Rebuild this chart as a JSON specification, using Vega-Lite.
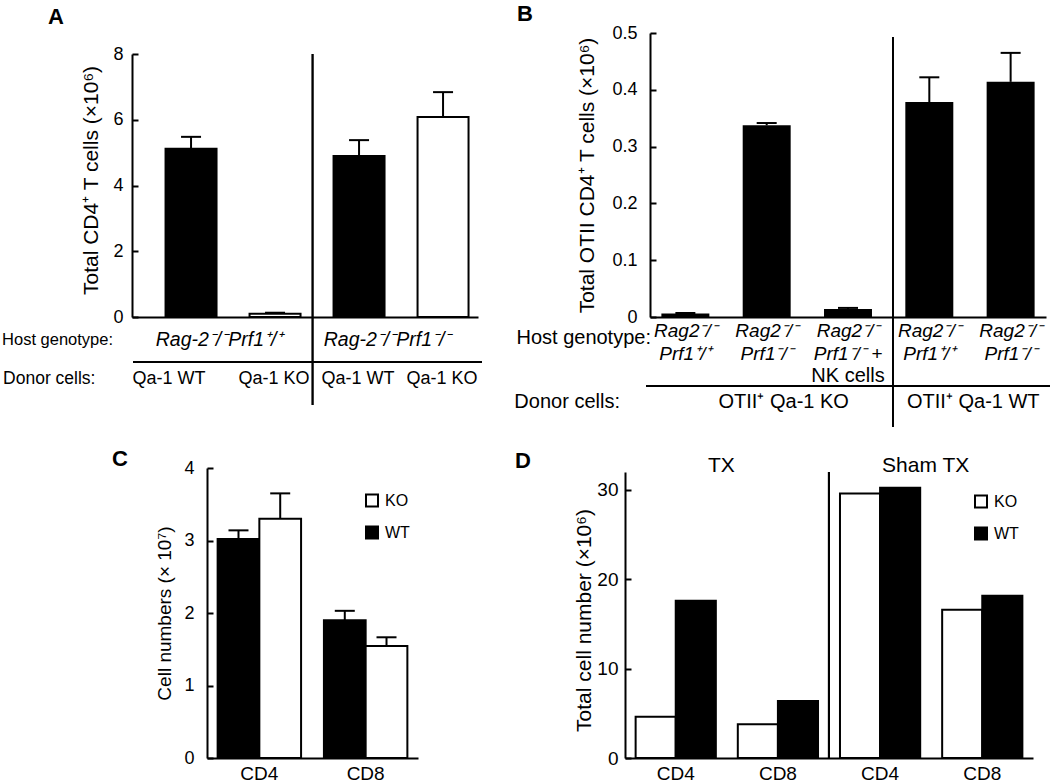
{
  "$schema": "https://vega.github.io/schema/vega-lite/v6.json",
  "width": 1050,
  "height": 783,
  "autosize": {"type": "none"},
  "padding": 0,
  "background": "white",
  "config": {
    "font": "Liberation Sans",
    "view": {"stroke": null},
    "axis": {"grid": false, "domainColor": "black", "domainWidth": 2, "tickColor": "black", "tickWidth": 2, "labelColor": "black", "titleColor": "black", "labelFont": "Liberation Sans", "titleFont": "Liberation Sans", "titleFontWeight": "normal", "labelFontSize": 18, "titleFontSize": 21},
    "legend": {"labelFont": "Liberation Sans", "labelColor": "black"},
    "text": {"font": "Liberation Sans", "color": "black"}
  },
  "resolve": {"scale": {"x": "independent", "y": "independent", "fill": "independent", "xOffset": "independent"}, "axis": {"x": "independent", "y": "independent"}, "legend": {"fill": "independent"}},
  "layer": [
    {
      "data": {"values": [
        {"bar": "A1", "donor": "Qa-1 WT", "geno": "WT", "value": 5.12, "upper": 5.48},
        {"bar": "A2", "donor": "Qa-1 KO", "geno": "KO", "value": 0.1, "upper": 0.13},
        {"bar": "A3", "donor": "Qa-1 WT", "geno": "WT", "value": 4.9, "upper": 5.38},
        {"bar": "A4", "donor": "Qa-1 KO", "geno": "KO", "value": 6.08, "upper": 6.84}
      ]},
      "layer": [
        {
          "mark": {"type": "bar", "stroke": "black", "strokeWidth": 2},
          "encoding": {
            "x": {"field": "bar", "type": "nominal", "scale": {"domain": ["A1", "A2", "A3", "A4"], "range": [132, 478], "paddingInner": 0.393, "paddingOuter": 0.256, "align": 0.78}, "axis": {"orient": "bottom", "offset": -466, "labels": false, "ticks": false, "title": null}},
            "y": {"field": "value", "type": "quantitative", "scale": {"domain": [0, 8], "nice": false, "range": [317, 54]}, "axis": {"orient": "left", "offset": -132, "values": [0, 2, 4, 6, 8], "format": "~g", "tickSize": -6, "labelPadding": 15, "title": "Total CD4⁺ T cells (×10⁶)", "titleX": -35, "titleY": 180, "titleBaseline": "alphabetic", "titleAngle": 270}},
            "fill": {"field": "geno", "type": "nominal", "scale": {"domain": ["WT", "KO"], "range": ["black", "white"]}, "legend": null}
          }
        },
        {
          "mark": {"type": "rule", "color": "black", "strokeWidth": 2},
          "encoding": {"x": {"field": "bar", "type": "nominal"}, "y": {"field": "value", "type": "quantitative"}, "y2": {"field": "upper"}}
        },
        {
          "mark": {"type": "tick", "color": "black", "thickness": 2, "size": 20, "opacity": 1},
          "encoding": {"x": {"field": "bar", "type": "nominal"}, "y": {"field": "upper", "type": "quantitative"}}
        },
        {
          "mark": {"type": "rule", "color": "black", "strokeWidth": 1.5, "xOffset": -21, "y2Offset": 88},
          "encoding": {"x": {"datum": "A3", "bandPosition": 0}, "y": {"datum": 8}, "y2": {"datum": 0}}
        },
        {
          "mark": {"type": "rule", "color": "black", "strokeWidth": 1.5, "xOffset": -32.5, "x2Offset": 13.5, "yOffset": 45},
          "encoding": {"x": {"datum": "A1", "bandPosition": 0}, "x2": {"datum": "A4", "bandPosition": 1}, "y": {"datum": 0}}
        },
        {
          "data": {"values": [{"bar": "A1", "label": "Rag-2⁻/⁻Prf1⁺/⁺"}, {"bar": "A3", "label": "Rag-2⁻/⁻Prf1⁻/⁻"}]},
          "mark": {"type": "text", "fontStyle": "italic", "fontSize": 19.5, "baseline": "middle", "dy": 23},
          "encoding": {"x": {"field": "bar", "type": "nominal", "bandPosition": 1.06}, "y": {"datum": 0}, "text": {"field": "label"}}
        },
        {
          "transform": [{"filter": "datum.bar === 'A1'"}],
          "mark": {"type": "text", "fontSize": 18, "baseline": "middle", "dy": 62, "dx": -22},
          "encoding": {"x": {"field": "bar", "type": "nominal"}, "y": {"datum": 0}, "text": {"field": "donor"}}
        },
        {
          "transform": [{"filter": "datum.bar !== 'A1'"}],
          "mark": {"type": "text", "fontSize": 18, "baseline": "middle", "dy": 62, "dx": -1},
          "encoding": {"x": {"field": "bar", "type": "nominal"}, "y": {"datum": 0}, "text": {"field": "donor"}}
        },
        {
          "data": {"values": [{"label": "Host genotype:"}]},
          "mark": {"type": "text", "fontSize": 16.5, "align": "left", "baseline": "middle", "dy": 23, "dx": -163.5},
          "encoding": {"x": {"datum": "A1", "bandPosition": 0}, "y": {"datum": 0}, "text": {"field": "label"}}
        },
        {
          "data": {"values": [{"label": "Donor cells:"}]},
          "mark": {"type": "text", "fontSize": 17.5, "align": "left", "baseline": "middle", "dy": 62, "dx": -162.5},
          "encoding": {"x": {"datum": "A1", "bandPosition": 0}, "y": {"datum": 0}, "text": {"field": "label"}}
        },
        {
          "data": {"values": [{"label": "A"}]},
          "mark": {"type": "text", "fontSize": 22, "fontWeight": "bold", "align": "left", "baseline": "top", "dy": -47.25, "dx": -117.5},
          "encoding": {"x": {"datum": "A1", "bandPosition": 0}, "y": {"datum": 8}, "text": {"field": "label"}}
        }
      ]
    },
    {
      "data": {"values": [
        {"bar": "B1", "host": "Rag2⁻/⁻\nPrf1⁺/⁺", "value": 0.006, "upper": 0.007},
        {"bar": "B2", "host": "Rag2⁻/⁻\nPrf1⁻/⁻", "value": 0.3375, "upper": 0.3415},
        {"bar": "B3", "host": "Rag2⁻/⁻\nPrf1⁻/⁻ +", "value": 0.014, "upper": 0.016},
        {"bar": "B4", "host": "Rag2⁻/⁻\nPrf1⁺/⁺", "value": 0.3785, "upper": 0.422},
        {"bar": "B5", "host": "Rag2⁻/⁻\nPrf1⁻/⁻", "value": 0.414, "upper": 0.465}
      ]},
      "layer": [
        {
          "mark": {"type": "bar", "color": "black"},
          "encoding": {
            "x": {"field": "bar", "type": "nominal", "scale": {"domain": ["B1", "B2", "B3", "B4", "B5"], "range": [650, 1046], "paddingInner": 0.41, "paddingOuter": 0.14, "align": 0.5}, "axis": {"orient": "bottom", "offset": -466, "labels": false, "ticks": false, "title": null}},
            "y": {"field": "value", "type": "quantitative", "scale": {"domain": [0, 0.5], "nice": false, "range": [317, 33]}, "axis": {"orient": "left", "offset": -650, "values": [0, 0.1, 0.2, 0.3, 0.4, 0.5], "format": "~g", "tickSize": -6, "labelPadding": 19, "title": "Total OTII CD4⁺ T cells (×10⁶)", "titleX": -57, "titleY": 175, "titleBaseline": "alphabetic", "titleAngle": 270}}
          }
        },
        {
          "mark": {"type": "rule", "color": "black", "strokeWidth": 2},
          "encoding": {"x": {"field": "bar", "type": "nominal"}, "y": {"field": "value", "type": "quantitative"}, "y2": {"field": "upper"}}
        },
        {
          "mark": {"type": "tick", "color": "black", "thickness": 2, "size": 20, "opacity": 1},
          "encoding": {"x": {"field": "bar", "type": "nominal"}, "y": {"field": "upper", "type": "quantitative"}}
        },
        {
          "mark": {"type": "rule", "color": "black", "strokeWidth": 1.5, "xOffset": -12.5, "yOffset": 4, "y2Offset": 110},
          "encoding": {"x": {"datum": "B4", "bandPosition": 0}, "y": {"datum": 0.5}, "y2": {"datum": 0}}
        },
        {
          "mark": {"type": "rule", "color": "black", "strokeWidth": 1.5, "xOffset": -15.4, "x2Offset": 15.4, "yOffset": 69},
          "encoding": {"x": {"datum": "B1", "bandPosition": 0}, "x2": {"datum": "B5", "bandPosition": 1}, "y": {"datum": 0}}
        },
        {
          "mark": {"type": "text", "fontStyle": "italic", "fontSize": 19, "baseline": "alphabetic", "lineBreak": "\n", "lineHeight": 23, "dy": 20},
          "encoding": {"x": {"field": "bar", "type": "nominal"}, "y": {"datum": 0}, "text": {"field": "host"}}
        },
        {
          "data": {"values": [{"bar": "B3", "label": "NK cells"}]},
          "mark": {"type": "text", "fontSize": 20, "baseline": "alphabetic", "dy": 65},
          "encoding": {"x": {"field": "bar", "type": "nominal"}, "y": {"datum": 0}, "text": {"field": "label"}}
        },
        {
          "data": {"values": [{"label": "Host genotype:"}]},
          "mark": {"type": "text", "fontSize": 20, "align": "right", "baseline": "middle", "dy": 21, "dx": -10.4},
          "encoding": {"x": {"datum": "B1", "bandPosition": 0}, "y": {"datum": 0}, "text": {"field": "label"}}
        },
        {
          "data": {"values": [{"label": "Donor cells:"}]},
          "mark": {"type": "text", "fontSize": 20, "align": "right", "baseline": "middle", "dy": 85, "dx": -41.4},
          "encoding": {"x": {"datum": "B1", "bandPosition": 0}, "y": {"datum": 0}, "text": {"field": "label"}}
        },
        {
          "data": {"values": [{"bar": "B2", "label": "OTII⁺ Qa-1 KO"}]},
          "mark": {"type": "text", "fontSize": 20, "baseline": "middle", "dy": 85, "dx": 17},
          "encoding": {"x": {"field": "bar", "type": "nominal"}, "y": {"datum": 0}, "text": {"field": "label"}}
        },
        {
          "data": {"values": [{"bar": "B4", "label": "OTII⁺ Qa-1 WT"}]},
          "mark": {"type": "text", "fontSize": 20, "baseline": "middle", "dy": 85, "dx": 44},
          "encoding": {"x": {"field": "bar", "type": "nominal"}, "y": {"datum": 0}, "text": {"field": "label"}}
        },
        {
          "data": {"values": [{"label": "B"}]},
          "mark": {"type": "text", "fontSize": 22, "fontWeight": "bold", "align": "left", "baseline": "top", "dy": -29.25, "dx": -144.4},
          "encoding": {"x": {"datum": "B1", "bandPosition": 0}, "y": {"datum": 0.5}, "text": {"field": "label"}}
        }
      ]
    },
    {
      "data": {"values": [
        {"cell": "CD4", "g": "WT", "value": 3.02, "upper": 3.14},
        {"cell": "CD4", "g": "KO", "value": 3.3, "upper": 3.65},
        {"cell": "CD8", "g": "WT", "value": 1.9, "upper": 2.03},
        {"cell": "CD8", "g": "KO", "value": 1.545, "upper": 1.665}
      ]},
      "layer": [
        {
          "mark": {"type": "bar", "stroke": "black", "strokeWidth": 2},
          "encoding": {
            "x": {"field": "cell", "type": "nominal", "scale": {"domain": ["CD4", "CD8"], "range": [207, 418], "paddingInner": 0.215, "paddingOuter": 0.1, "align": 0.5}, "axis": {"orient": "bottom", "offset": -25, "ticks": false, "labelPadding": 6, "labelFontSize": 19, "labelAngle": 0, "title": null}},
            "xOffset": {"field": "g", "type": "nominal", "sort": ["WT", "KO"], "scale": {"paddingInner": 0, "paddingOuter": 0}},
            "y": {"field": "value", "type": "quantitative", "scale": {"domain": [0, 4], "nice": false, "range": [758, 468]}, "axis": {"orient": "left", "offset": -207, "values": [0, 1, 2, 3, 4], "format": "~g", "tickSize": -6, "labelPadding": 19, "title": "Cell numbers (× 10⁷)", "titleFontSize": 19, "titleX": -37, "titleY": 613, "titleBaseline": "alphabetic", "titleAngle": 270}},
            "fill": {"field": "g", "type": "nominal", "scale": {"domain": ["KO", "WT"], "range": ["white", "black"]}, "legend": {"orient": "none", "legendX": 364, "legendY": 492.5, "title": null, "symbolType": "square", "symbolSize": 144, "symbolStrokeColor": "black", "symbolStrokeWidth": 2, "labelFontSize": 16, "rowPadding": 12, "labelOffset": 5, "padding": 0}}
          }
        },
        {
          "mark": {"type": "rule", "color": "black", "strokeWidth": 2},
          "encoding": {"x": {"field": "cell", "type": "nominal"}, "xOffset": {"field": "g", "type": "nominal", "sort": ["WT", "KO"]}, "y": {"field": "value", "type": "quantitative"}, "y2": {"field": "upper"}}
        },
        {
          "mark": {"type": "tick", "color": "black", "thickness": 2, "size": 20, "opacity": 1},
          "encoding": {"x": {"field": "cell", "type": "nominal"}, "xOffset": {"field": "g", "type": "nominal", "sort": ["WT", "KO"]}, "y": {"field": "upper", "type": "quantitative"}}
        },
        {
          "data": {"values": [{"label": "C"}]},
          "mark": {"type": "text", "fontSize": 22, "fontWeight": "bold", "align": "left", "baseline": "top", "dy": -19.25, "dx": -105.6},
          "encoding": {"x": {"datum": "CD4", "bandPosition": 0}, "y": {"datum": 4}, "text": {"field": "label"}}
        }
      ]
    },
    {
      "data": {"values": [
        {"grp": "TX CD4", "g": "KO", "value": 4.62},
        {"grp": "TX CD4", "g": "WT", "value": 17.6},
        {"grp": "TX CD8", "g": "KO", "value": 3.77},
        {"grp": "TX CD8", "g": "WT", "value": 6.38},
        {"grp": "Sham CD4", "g": "KO", "value": 29.6},
        {"grp": "Sham CD4", "g": "WT", "value": 30.25},
        {"grp": "Sham CD8", "g": "KO", "value": 16.6},
        {"grp": "Sham CD8", "g": "WT", "value": 18.16}
      ]},
      "layer": [
        {
          "mark": {"type": "bar", "stroke": "black", "strokeWidth": 2},
          "encoding": {
            "x": {"field": "grp", "type": "nominal", "scale": {"domain": ["TX CD4", "TX CD8", "Sham CD4", "Sham CD8"], "range": [625, 1033], "paddingInner": 0.215, "paddingOuter": 0.104, "align": 0.5}, "axis": {"orient": "bottom", "offset": -25, "ticks": false, "labelPadding": 6, "labelFontSize": 19, "labelAngle": 0, "title": null, "labelExpr": "slice(datum.label, -3)"}},
            "xOffset": {"field": "g", "type": "nominal", "sort": ["KO", "WT"], "scale": {"paddingInner": 0, "paddingOuter": 0}},
            "y": {"field": "value", "type": "quantitative", "scale": {"domain": [0, 32], "nice": false, "range": [758, 472]}, "axis": {"orient": "left", "offset": -625, "values": [0, 10, 20, 30], "format": "~g", "tickSize": -6, "labelPadding": 13, "labelFontSize": 19, "title": "Total cell number (×10⁶)", "titleX": -35, "titleY": 620, "titleBaseline": "alphabetic", "titleAngle": 270}},
            "fill": {"field": "g", "type": "nominal", "scale": {"domain": ["KO", "WT"], "range": ["white", "black"]}, "legend": {"orient": "none", "legendX": 973, "legendY": 493.5, "title": null, "symbolType": "square", "symbolSize": 144, "symbolStrokeColor": "black", "symbolStrokeWidth": 2, "labelFontSize": 16, "rowPadding": 12, "labelOffset": 5, "padding": 0}}
          }
        },
        {
          "mark": {"type": "rule", "color": "black", "strokeWidth": 2, "xOffset": -11},
          "encoding": {"x": {"datum": "Sham CD4", "bandPosition": 0}, "y": {"datum": 32}, "y2": {"datum": 0}}
        },
        {
          "data": {"values": [{"grp": "TX CD8", "label": "TX"}, {"grp": "Sham CD8", "label": "Sham TX"}]},
          "mark": {"type": "text", "fontSize": 21, "baseline": "alphabetic", "dx": -16.5},
          "encoding": {"x": {"field": "grp", "type": "nominal", "bandPosition": 0}, "y": {"datum": 32}, "text": {"field": "label"}}
        },
        {
          "data": {"values": [{"label": "D"}]},
          "mark": {"type": "text", "fontSize": 22, "fontWeight": "bold", "align": "left", "baseline": "top", "dy": -21.25, "dx": -120.6},
          "encoding": {"x": {"datum": "TX CD4", "bandPosition": 0}, "y": {"datum": 32}, "text": {"field": "label"}}
        }
      ]
    }
  ]
}
